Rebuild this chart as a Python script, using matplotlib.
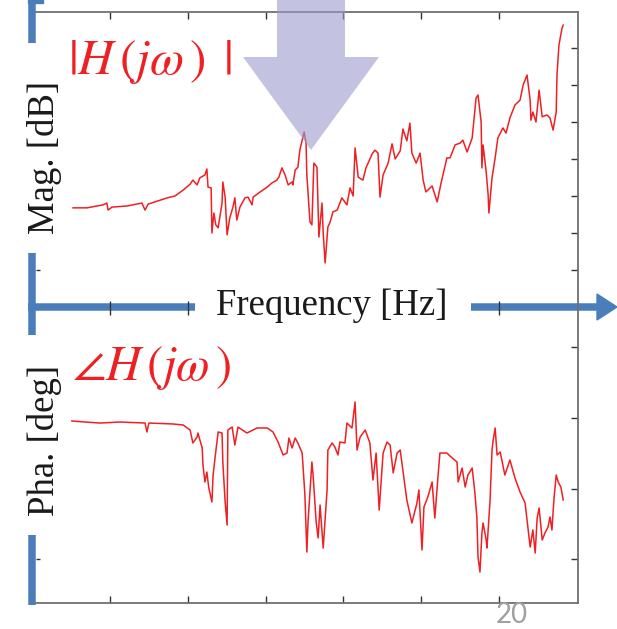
import matplotlib
matplotlib.use("Agg")
import matplotlib.pyplot as plt
from matplotlib.transforms import Affine2D
from matplotlib.patches import Polygon, Rectangle
from matplotlib.lines import Line2D

# ---------------- data ----------------
freq_mag = [9.05, 9.41, 9.82, 9.92, 9.95, 10.05, 10.44, 10.82, 10.90, 10.98, 11.21, 11.47, 11.67, 11.88,
            12.06, 12.13, 12.24, 12.31, 12.44, 12.49, 12.52, 12.60, 12.62, 12.67, 12.72, 12.78, 12.88,
            12.90, 12.96, 13.01, 13.08, 13.16, 13.21, 13.26, 13.34, 13.47, 13.55, 13.65, 13.68, 13.86,
            14.04, 14.16, 14.29, 14.34, 14.42, 14.50, 14.58, 14.68, 14.70, 14.76, 14.83, 14.88, 14.94,
            14.99, 15.04, 15.06, 15.14, 15.19, 15.24, 15.32, 15.37, 15.45, 15.48, 15.53, 15.60, 15.66,
            15.73, 15.84, 15.96, 16.09, 16.17, 16.25, 16.30, 16.38, 16.50, 16.58, 16.74, 16.81, 16.89,
            16.94, 17.02, 17.15, 17.25, 17.33, 17.46, 17.53, 17.63, 17.71, 17.76, 17.87, 17.97, 18.05,
            18.12, 18.28, 18.41, 18.51, 18.66, 18.74, 18.87, 19.00, 19.07, 19.18, 19.31, 19.36, 19.41,
            19.46, 19.54, 19.56, 19.59, 19.67, 19.72, 19.74, 19.82, 19.90, 19.97, 20.10, 20.18, 20.28,
            20.41, 20.54, 20.62, 20.72, 20.80, 20.82, 20.87, 20.95, 21.03, 21.11, 21.23, 21.31, 21.39,
            21.47, 21.49, 21.54, 21.62, 21.65]
mag_db = [-43.2, -43.2, -42.4, -41.9, -43.8, -43.0, -42.7, -41.9, -43.8, -42.2, -41.4, -40.5, -40.0, -38.4,
          -36.8, -35.7, -37.0, -35.1, -34.3, -32.7, -37.6, -37.8, -50.0, -44.6, -47.8, -48.6, -41.9,
          -36.2, -40.3, -50.5, -45.9, -43.0, -40.5, -46.5, -43.0, -40.5, -40.3, -42.4, -40.3, -38.9,
          -37.6, -36.5, -35.7, -34.9, -32.4, -34.3, -37.0, -36.2, -37.0, -33.0, -32.2, -27.6, -24.9,
          -22.7, -25.7, -34.3, -47.0, -47.8, -31.1, -32.2, -51.1, -41.9, -50.0, -58.1, -48.4, -47.0,
          -44.3, -43.8, -40.5, -42.4, -37.8, -40.0, -27.0, -34.9, -35.7, -32.4, -28.6, -27.6, -28.4,
          -40.3, -34.3, -31.1, -25.9, -30.0, -27.8, -21.9, -25.1, -20.3, -28.4, -31.1, -28.4, -35.7,
          -38.9, -37.3, -41.6, -36.5, -29.7, -29.7, -26.2, -25.7, -24.9, -28.1, -24.3, -18.9, -13.5,
          -12.7, -20.0, -32.4, -26.2, -33.5, -39.7, -44.6, -35.1, -29.7, -24.3, -21.6, -23.0, -18.9,
          -15.4, -14.1, -10.0, -7.3, -14.1, -19.5, -17.3, -20.0, -11.4, -18.6, -18.1, -18.9, -22.2,
          -17.3, -7.3, 0.8, 5.4, 6.2]

freq_pha = [9.02, 9.36, 9.74, 10.26, 10.90, 10.95, 11.00, 11.62, 11.88, 12.06, 12.13, 12.24, 12.26, 12.37,
            12.39, 12.44, 12.49, 12.54, 12.62, 12.65, 12.70, 12.78, 12.88, 12.90, 12.96, 13.01, 13.03,
            13.14, 13.21, 13.29, 13.52, 13.78, 14.04, 14.19, 14.32, 14.45, 14.55, 14.60, 14.68, 14.76,
            14.83, 14.94, 15.01, 15.06, 15.09, 15.19, 15.22, 15.30, 15.35, 15.40, 15.48, 15.58, 15.60,
            15.71, 15.78, 15.86, 15.91, 16.04, 16.09, 16.22, 16.30, 16.35, 16.43, 16.56, 16.68, 16.76,
            16.84, 16.92, 17.02, 17.12, 17.20, 17.28, 17.38, 17.46, 17.63, 17.76, 17.89, 17.94, 18.02,
            18.07, 18.17, 18.28, 18.35, 18.43, 18.48, 18.66, 18.74, 18.92, 18.95, 19.05, 19.13, 19.20,
            19.31, 19.38, 19.43, 19.46, 19.51, 19.56, 19.59, 19.67, 19.69, 19.77, 19.82, 19.85, 19.90,
            19.95, 20.03, 20.15, 20.28, 20.41, 20.54, 20.67, 20.75, 20.80, 20.87, 20.93, 20.98, 21.03,
            21.11, 21.18, 21.26, 21.31, 21.36, 21.41, 21.47, 21.52, 21.59, 21.65]
pha_deg = [-3.8, -5.1, -6.4, -5.1, -6.4, -17.8, -6.4, -7.6, -8.9, -15.3, -31.8, -24.2, -19.1, -38.2,
           -59.9, -81.5, -68.8, -89.2, -107.0, -72.6, -50.9, -17.8, -19.1, -56.0, -107.0, -136.3, -15.3,
           -11.5, -34.4, -11.5, -19.1, -12.7, -12.7, -17.8, -30.6, -47.1, -44.6, -25.5, -38.2, -25.5,
           -31.8, -44.6, -98.1, -170.7, -132.5, -56.0, -72.6, -132.5, -152.8, -110.8, -165.6, -91.7, -40.8,
           -31.8, -36.9, -47.1, -30.6, -31.8, -6.4, -12.7, 20.4, -40.8, -24.2, -15.3, -31.8, -79.0,
           -44.6, -117.2, -44.6, -30.6, -34.4, -70.0, -44.6, -40.8, -104.4, -133.7, -108.3, -91.7, -168.1,
           -113.3, -100.6, -81.5, -127.4, -75.1, -44.6, -44.6, -48.4, -56.0, -81.5, -63.7, -87.9, -72.6,
           -63.7, -95.5, -126.1, -177.0, -196.1, -146.5, -133.7, -155.4, -165.6, -104.4, -40.8, -28.0, -12.7,
           -47.1, -43.3, -72.6, -53.5, -76.4, -94.2, -108.3, -142.6, -164.3, -142.6, -171.9, -127.4, -114.6,
           -155.4, -146.5, -138.8, -126.1, -142.6, -104.4, -72.6, -81.5, -87.9, -104.4]

x_ticks = [10, 12, 14, 16, 18, 20]
mag_ticks = [-60, -50, -40, -30, -20, -10, 0]
pha_ticks = [-180, -90, 0, 90]

# ---------------- figure ----------------
W, H = 617, 629
fig = plt.figure(figsize=(W / 100, H / 100), dpi=100)
pix = Affine2D().scale(1 / W, -1 / H).translate(0, 1) + fig.transFigure

RED = '#ee2024'
BLUE = '#4a7ebb'
SPINE = '#707070'

ax1 = fig.add_axes([36 / W, 1 - 308 / H, (578 - 36) / W, (308 - 12) / H])
ax2 = fig.add_axes([36 / W, 1 - 603 / H, (578 - 36) / W, (603 - 308) / H])

ax1.plot(freq_mag, mag_db, color=RED, lw=1.1)
ax2.plot(freq_pha, pha_deg, color=RED, lw=1.1)

ax1.set_ylim(-70.27, 9.73)
ax2.set_ylim(-235.6, 140.1)
for ax in (ax1, ax2):
    ax.set_xlim(8.098, 22.03)
    ax.set_xticks(x_ticks)
    ax.set_facecolor('none')
    ax.spines['left'].set_visible(False)
    for s in ('top', 'bottom', 'right'):
        ax.spines[s].set_color(SPINE)
        ax.spines[s].set_linewidth(1.3)
    ax.tick_params(axis='x', which='major', top=True, bottom=True, direction='in',
                   length=5, width=1, color='#333333', labelbottom=False, labeltop=False)
    ax.tick_params(axis='y', which='major', left=False, right=True, direction='in',
                   length=5, width=1, color='#333333', labelleft=False, labelright=False)
    ax.yaxis.remove_overlapping_locs = False
    ax.tick_params(axis='y', which='minor', left=True, right=False, direction='in',
                   length=3, width=1, color='#333333', labelleft=False)

ax1.spines['bottom'].set_visible(False)
ax2.spines['top'].set_visible(False)
ax1.set_yticks(mag_ticks)
ax1.set_yticks([mag_ticks[0]], minor=True)
ax2.set_yticks(pha_ticks)
ax2.set_yticks([pha_ticks[0]], minor=True)
ax1.xaxis.set_minor_locator(matplotlib.ticker.NullLocator())
ax2.xaxis.set_minor_locator(matplotlib.ticker.NullLocator())

# ---------------- blue axis arrows (below axes so ticks sit on top) ----------------
def bar(x0, y0, x1, y1, lw_px):
    fig.add_artist(Line2D([x0, x1], [y0, y1], transform=pix, color=BLUE,
                          lw=lw_px * 0.72, solid_capstyle='butt', zorder=-1))

bar(31.5, 0, 31.5, 43, 7.5)
fig.add_artist(Rectangle((28, 0), 15, 2.5, transform=pix, color=BLUE, zorder=-1))
bar(31.5, 253, 31.5, 335, 7.5)
bar(31.5, 535, 31.5, 605, 7.5)
bar(28, 307, 195, 307, 7.5)
bar(471, 307, 598, 307, 7.5)
fig.add_artist(Polygon([(597, 294), (617, 307), (597, 320)], closed=True, transform=pix,
                       color=BLUE, zorder=-1))

# ---------------- big lavender arrow ----------------
fig.add_artist(Polygon([(277, -2), (345, -2), (345, 57), (379, 57), (311, 150), (243, 57), (277, 57)],
                       closed=True, transform=pix, facecolor='#9b9bcd', alpha=0.6,
                       edgecolor='none', zorder=10))

# ---------------- texts ----------------
plt.rcParams['mathtext.fontset'] = 'stix'
fig.text(68 / W, 1 - 62 / H, r'$|H\,(j\omega\,)\ \,|$', color=RED, fontsize=35.5,
         ha='left', va='center')
fig.text(72 / W, 1 - 368 / H, r'$\angle H\,(j\omega\,)$', color=RED, fontsize=35,
         ha='left', va='center')
fig.text(45 / W, 1 - 157 / H, 'Mag. [dB]', rotation=90, family='Liberation Serif',
         fontsize=26.5, ha='center', va='center', color='#1a1a1a')
fig.text(45 / W, 1 - 440 / H, 'Pha. [deg]', rotation=90, family='Liberation Serif',
         fontsize=26.5, ha='center', va='center', color='#1a1a1a')
fig.text(332 / W, 1 - 306 / H, 'Frequency [Hz]', family='Liberation Serif',
         fontsize=26.5, ha='center', va='center', color='#1a1a1a', zorder=5,
         bbox=dict(facecolor='white', edgecolor='none', pad=1.5))
fig.text(512 / W, 1 - 615 / H, '20', family='Lato', fontsize=20, color='#a0a0a0',
         ha='center', va='center')

fig.savefig('out.png', dpi=100)
